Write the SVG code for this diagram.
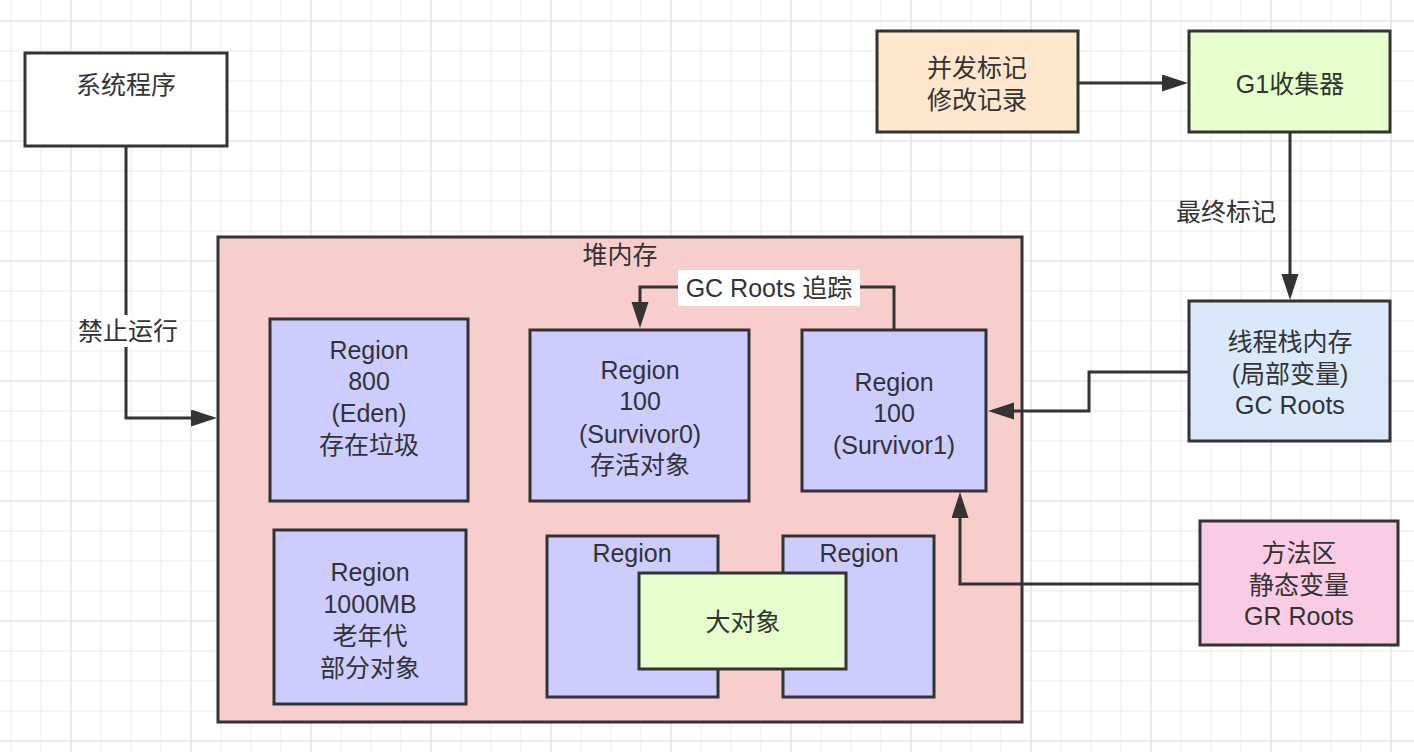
<svg xmlns="http://www.w3.org/2000/svg" width="1414" height="752" viewBox="0 0 1414 752">
<defs>
<pattern id="gmin" patternUnits="userSpaceOnUse" x="-4" y="6" width="30" height="30">
<path d="M15 0V30M0 15H30" stroke="#f2f2f2" stroke-width="1.5" fill="none"/>
</pattern>
<pattern id="gmaj" patternUnits="userSpaceOnUse" x="11" y="-39" width="120" height="120">
<path d="M60 0V120M0 60H120" stroke="#e8e8e8" stroke-width="1.5" fill="none"/>
</pattern>
<marker id="arr" markerUnits="userSpaceOnUse" markerWidth="27" markerHeight="18" refX="0" refY="8.5" orient="auto">
<path d="M0 0L26 8.5L0 17z" fill="#333"/>
</marker>
</defs>
<style>
.n{stroke:#333;stroke-width:3}
.t{font-family:"Liberation Sans","Noto Sans CJK SC",sans-serif;font-size:25px;fill:#333;text-anchor:middle;dominant-baseline:central}
.e{fill:none;stroke:#333;stroke-width:3}
.lb{fill:#fff}
</style>
<rect width="1414" height="752" fill="#fff"/>
<rect width="1414" height="752" fill="url(#gmin)"/>
<rect width="1414" height="752" fill="url(#gmaj)"/>

<g id="sys">
<rect class="n" x="25" y="53" width="202" height="93" fill="#fff"/>
<text class="t" x="126" y="85">系统程序</text>
</g>

<g id="heap">
<rect class="n" x="218" y="237" width="804" height="485" fill="#f8cecc"/>
<text class="t" x="620" y="255">堆内存</text>
</g>

<g id="eden">
<rect class="n" x="270" y="319" width="198" height="182" fill="#ccccff"/>
<text class="t" x="369" y="350">Region</text>
<text class="t" x="369" y="381">800</text>
<text class="t" x="369" y="413">(Eden)</text>
<text class="t" x="369" y="445">存在垃圾</text>
</g>

<g id="s0">
<rect class="n" x="530" y="330" width="219" height="171" fill="#ccccff"/>
<text class="t" x="640" y="370">Region</text>
<text class="t" x="640" y="401">100</text>
<text class="t" x="640" y="434">(Survivor0)</text>
<text class="t" x="640" y="465">存活对象</text>
</g>

<g id="s1">
<rect class="n" x="802" y="330" width="184" height="161" fill="#ccccff"/>
<text class="t" x="894" y="382">Region</text>
<text class="t" x="894" y="413">100</text>
<text class="t" x="894" y="445">(Survivor1)</text>
</g>

<g id="old">
<rect class="n" x="274" y="530" width="192" height="174" fill="#ccccff"/>
<text class="t" x="370" y="572">Region</text>
<text class="t" x="370" y="604">1000MB</text>
<text class="t" x="370" y="636">老年代</text>
<text class="t" x="370" y="668">部分对象</text>
</g>

<g id="h1">
<rect class="n" x="547" y="536" width="171" height="161" fill="#ccccff"/>
<text class="t" x="632" y="553">Region</text>
</g>

<g id="h2">
<rect class="n" x="783" y="536" width="151" height="161" fill="#ccccff"/>
<text class="t" x="859" y="553">Region</text>
</g>

<g id="big">
<rect class="n" x="639" y="573" width="207" height="96" fill="#e6ffcc"/>
<text class="t" x="743" y="622">大对象</text>
</g>

<g id="mark">
<rect class="n" x="877" y="31" width="201" height="101" fill="#ffe6cc"/>
<text class="t" x="977" y="68">并发标记</text>
<text class="t" x="977" y="100">修改记录</text>
</g>

<g id="g1">
<rect class="n" x="1189" y="31" width="201" height="101" fill="#e6ffcc"/>
<text class="t" x="1290" y="84">G1收集器</text>
</g>

<g id="stack">
<rect class="n" x="1189" y="301" width="201" height="140" fill="#dae8fc"/>
<text class="t" x="1290" y="342">线程栈内存</text>
<text class="t" x="1290" y="374">(局部变量)</text>
<text class="t" x="1290" y="405">GC Roots</text>
</g>

<g id="method">
<rect class="n" x="1200" y="521" width="198" height="124" fill="#f9cce4"/>
<text class="t" x="1299" y="553">方法区</text>
<text class="t" x="1299" y="585">静态变量</text>
<text class="t" x="1299" y="616">GR Roots</text>
</g>

<g id="connectors">
<path class="e" d="M126 146V418H191" marker-end="url(#arr)"/>
<rect class="lb" x="76" y="315" width="104" height="32"/>
<text class="t" x="128" y="331">禁止运行</text>

<path class="e" d="M894 330V287H640V302" marker-end="url(#arr)"/>
<rect class="lb" x="678" y="270" width="182" height="36"/>
<text class="t" x="769" y="288">GC Roots 追踪</text>

<path class="e" d="M1078 83H1162" marker-end="url(#arr)"/>

<path class="e" d="M1290 132V274" marker-end="url(#arr)"/>
<text class="t" x="1226" y="212">最终标记</text>

<path class="e" d="M1189 372H1089V411H1014" marker-end="url(#arr)"/>

<path class="e" d="M1200 584H960V518" marker-end="url(#arr)"/>
</g>
</svg>
